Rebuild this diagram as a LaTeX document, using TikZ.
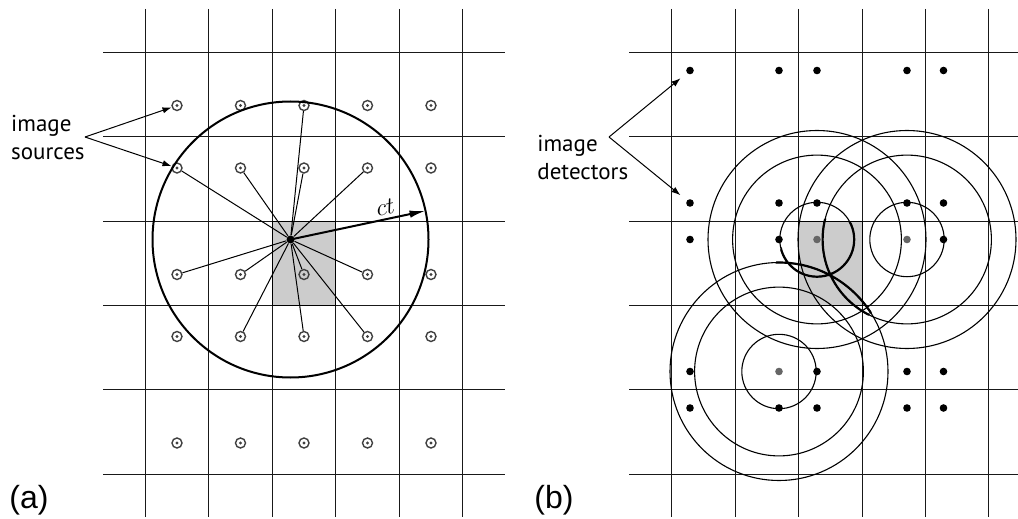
\documentclass[tikz,border=0pt]{standalone}
\usepackage{fontspec}
\setmainfont{Liberation Sans}
\newfontfamily\labelfont{PT Sans}
\usetikzlibrary{arrows.meta}

\begin{document}
\begin{tikzpicture}[x=0.5pt, y=-0.5pt, >={Latex[length=1.6mm, width=1.1mm]},
	gridline/.style={line width=0.65pt, black!90},
	cell/.style={fill=black!20, draw=black, line width=0.8pt},
	src/.style={circle, draw=black!75, line width=0.7pt, minimum size=5pt, inner sep=0pt, path picture={\fill[black!75] (path picture bounding box.center) circle[radius=0.8pt];}},
	det/.style={circle, fill=black, minimum size=3.8pt, inner sep=0pt},
	ctr/.style={det, fill=black!60},
	ray/.style={line width=0.5pt},
	wave/.style={line width=0.55pt},
	lbl/.style={font=\labelfont\fontsize{11.5}{14}\selectfont, align=left, inner sep=0pt},
	tag/.style={font=\fontsize{16}{18}\selectfont, inner sep=0pt}]
	\useasboundingbox (0,0) rectangle (1018,519);
	% (a) image sources
	\foreach \x in {145,208,272,335,399,462} \draw[gridline] ({\x+0.5},9) -- ({\x+0.5},517);
	\foreach \y in {52,136,221,305,389,474} \draw[gridline] (103,{\y+0.5}) -- (505,{\y+0.5});
	\draw[cell] (272.5,221.5) rectangle (335.5,305.5);
	\foreach \x [count=\i] in {177,240.5,304,367.5,431}
		\foreach \y [count=\j] in {105.5,168,274.5,336.5,443}
			\node[src] (s\i\j) at (\x,\y) {};
	\node[det, minimum size=4pt] (R) at (290.5,239.5) {};
	\foreach \n in {12,22,31,32,42,13,23,33,43,24,34,44} \draw[ray] (R) -- (s\n);
	\draw[line width=1pt] (R.center) circle[radius=69pt];
	\coordinate (rim) at ([shift={(12:69pt)}]R.center);
	\draw[-{Latex[length=2.8mm, width=1.3mm]}, line width=1pt] (R.center) -- (rim) node[pos=0.72, sloped, above, inner sep=1.5pt, font=\fontsize{11.5}{13}\selectfont] {$ct$};
	\node[lbl, anchor=east] (srclbl) at (85,137) {image\\sources};
	\draw[->, ray] (srclbl.east) -- (s11);
	\draw[->, ray] (srclbl.east) -- (s12);
	\node[tag] (taga) at (29,500) {(a)};
	% (b) image detectors
	\foreach \x in {671,735,798,862,925,988} \draw[gridline] ({\x+0.5},9) -- ({\x+0.5},517);
	\foreach \y in {52,136,221,305,389,474} \draw[gridline] (629,{\y+0.5}) -- (1018,{\y+0.5});
	\draw[cell] (798.5,221.5) rectangle (862.5,305.5);
	\foreach \x [count=\i] in {690,779,817,907,943.5}
		\foreach \y [count=\j] in {70.5,203,239.5,371.5,408} {
			\def\kind{det}
			\ifnum\i\j=33 \def\kind{ctr}\fi
			\ifnum\i\j=43 \def\kind{ctr}\fi
			\ifnum\i\j=24 \def\kind{ctr}\fi
			\node[\kind] (d\i\j) at (\x,\y) {};
		}
	\node[ctr, minimum size=2.8pt, fill=black!45] (S) at (830.5,274.5) {};
	\foreach \c in {d33,d43,d24}
		\foreach \r in {18.6,42.2,54.5}
			\draw[wave] (\c.center) circle[radius=\r pt];
	\begin{scope}
		\clip (S.center) circle[radius=28pt];
		\draw[line width=1.1pt] (d33.center) circle[radius=18.6pt] (d43.center) circle[radius=42.2pt] (d24.center) circle[radius=54.5pt];
	\end{scope}
	\node[lbl, anchor=west] (detlbl) at (537,157) {image\\detectors};
	\coordinate (fork) at (609,137);
	\draw[->, ray, shorten >=4pt] (fork) -- (d11);
	\draw[->, ray, shorten >=4pt] (fork) -- (d12);
	\node[tag] (tagb) at (554,500) {(b)};
\end{tikzpicture}
\end{document}
